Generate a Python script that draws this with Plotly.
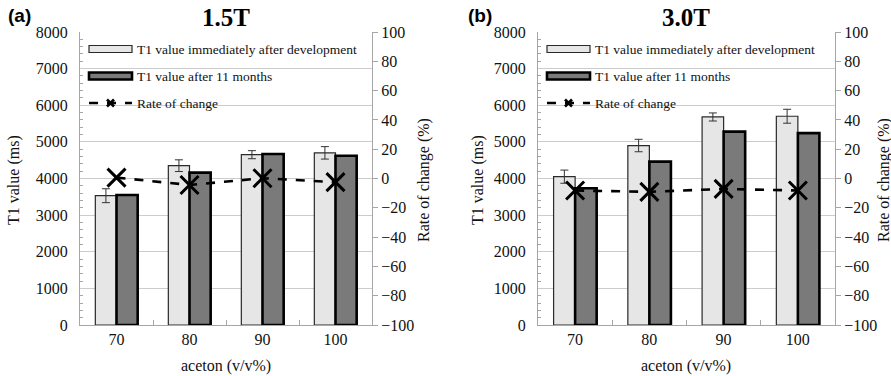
import plotly.graph_objects as go
from plotly.subplots import make_subplots

W, H = 891, 376

categories = ["70", "80", "90", "100"]
# Panel (a) 1.5T
a_initial = [3530, 4350, 4650, 4700]
a_initial_err = [190, 160, 110, 170]
a_after = [3550, 4160, 4670, 4620]
a_rate = [0.6, -4.4, 0.2, -2.5]
# Panel (b) 3.0T
b_initial = [4050, 4900, 5680, 5700]
b_initial_err = [180, 170, 110, 190]
b_after = [3735, 4460, 5280, 5240]
b_rate = [-8.2, -9.1, -7.1, -8.2]

panel_titles = ["1.5T", "3.0T"]
panel_labels = ["(a)", "(b)"]
legend_names = ["T1 value immediately after development", "T1 value after 11 months", "Rate of change"]
y_title = "T1 value (ms)"
y2_title = "Rate of change (%)"
x_title = "aceton (v/v%)"

SERIF = "Liberation Serif, Times New Roman, serif"

def px(x):
    return x / W

def py(y):
    return 1 - y / H

fig = make_subplots(rows=1, cols=2, specs=[[{"secondary_y": True}, {"secondary_y": True}]])

panels = [
    (a_initial, a_initial_err, a_after, a_rate),
    (b_initial, b_initial_err, b_after, b_rate),
]

for i, (ini, err, aft, rate) in enumerate(panels):
    col = i + 1
    fig.add_trace(go.Bar(x=categories, y=ini, name=legend_names[0], showlegend=False,
                         marker=dict(color="#e6e6e6", line=dict(color="#2a2a2a", width=1.2)),
                         error_y=dict(type="data", array=err, color="#333333", thickness=1, width=4)),
                  row=1, col=col, secondary_y=False)
    fig.add_trace(go.Bar(x=categories, y=aft, name=legend_names[1], showlegend=False,
                         marker=dict(color="#7a7a7a", line=dict(color="#000000", width=2.6))),
                  row=1, col=col, secondary_y=False)
    fig.add_trace(go.Scatter(x=categories, y=rate, name=legend_names[2], showlegend=False,
                             mode="lines+markers",
                             line=dict(color="#000000", width=2.6, dash="dash"),
                             marker=dict(symbol="x-thin", size=18, line=dict(color="#000000", width=3))),
                  row=1, col=col, secondary_y=True)

# plot area pixel geometry
top_px, bot_px = 32, 325
xdoms = [(80, 372), (538, 835)]

layout_axes = {}
axis_names = [("xaxis", "yaxis", "yaxis2"), ("xaxis2", "yaxis3", "yaxis4")]
tickfont = dict(family=SERIF, size=16, color="#111")
for i, (xn, yn, y2n) in enumerate(axis_names):
    x0, x1 = xdoms[i]
    layout_axes[xn] = dict(domain=[px(x0), px(x1)], type="category", automargin=False,
                           showline=True, linecolor="#a6a6a6", linewidth=1.2,
                           ticks="inside", tickson="boundaries", ticklen=5, tickcolor="#a6a6a6",
                           tickfont=dict(tickfont), showgrid=False)
    layout_axes[yn] = dict(domain=[py(bot_px), py(top_px)], range=[0, 8000], dtick=1000,
                           automargin=False,
                           showline=True, linecolor="#a6a6a6", linewidth=1.2,
                           showgrid=True, gridcolor="#cccccc", gridwidth=1,
                           ticks="", ticklabelstandoff=8,
                           minor=dict(dtick=200, ticks="inside", ticklen=3, tickcolor="#a6a6a6", showgrid=False),
                           tickfont=dict(tickfont), zeroline=False)
    layout_axes[y2n] = dict(range=[-100, 100], dtick=20, automargin=False,
                            showline=True, linecolor="#a6a6a6", linewidth=1.2,
                            ticks="outside", ticklen=5, tickcolor="#a6a6a6",
                            showgrid=False, zeroline=False, tickfont=dict(tickfont))

fig.update_layout(**layout_axes)

annotations = []
shapes = []
title_x = [226, 686]
ylab_x = [14, 478]
y2lab_x = [424, 884]
label_x = [19, 480]


def ann(text, x, y, font, **kw):
    d = dict(text=text, x=px(x), y=py(y), xref="paper", yref="paper", showarrow=False,
             xanchor="center", yanchor="middle", font=font)
    d.update(kw)
    return d


for i in range(2):
    annotations.append(ann("<b>" + panel_titles[i] + "</b>", title_x[i], 18,
                           dict(family=SERIF, size=25, color="#000")))
    annotations.append(ann("<b>" + panel_labels[i] + "</b>", label_x[i], 16,
                           dict(family="Liberation Sans, Arial, sans-serif", size=19, color="#000")))
    annotations.append(ann(y_title, ylab_x[i], 180, dict(family=SERIF, size=16, color="#111"), textangle=-90))
    annotations.append(ann(y2_title, y2lab_x[i], 180, dict(family=SERIF, size=16, color="#111"), textangle=-90))
    annotations.append(ann(x_title, title_x[i], 366, dict(family=SERIF, size=16, color="#111")))

    # legend (drawn manually to reproduce wide swatches)
    lx0 = xdoms[i][0] + 9
    lx1 = lx0 + 43
    ys = [49, 76, 103]
    shapes.append(dict(type="rect", xref="paper", yref="paper",
                       x0=px(lx0), x1=px(lx1), y0=py(ys[0] - 3.5), y1=py(ys[0] + 3.5),
                       fillcolor="#e6e6e6", line=dict(color="#2a2a2a", width=1.2)))
    shapes.append(dict(type="rect", xref="paper", yref="paper",
                       x0=px(lx0), x1=px(lx1), y0=py(ys[1] - 3.5), y1=py(ys[1] + 3.5),
                       fillcolor="#7a7a7a", line=dict(color="#000000", width=2.6)))
    shapes.append(dict(type="line", xref="paper", yref="paper",
                       x0=px(lx0), x1=px(lx1), y0=py(ys[2]), y1=py(ys[2]),
                       line=dict(color="#000000", width=2.6, dash="dash")))
    cx, cy, r = (lx0 + lx1) / 2, ys[2], 3.5
    for dy in (r, -r):
        shapes.append(dict(type="line", xref="paper", yref="paper",
                           x0=px(cx - r), x1=px(cx + r), y0=py(cy - dy), y1=py(cy + dy),
                           line=dict(color="#000000", width=2.6)))
    for k in range(3):
        annotations.append(ann(legend_names[k], lx1 + 3, ys[k],
                               dict(family=SERIF, size=13.5, color="#111"), xanchor="left"))

fig.update_layout(
    width=W, height=H,
    font=dict(family=SERIF, color="#111"),
    margin=dict(l=0, r=0, t=0, b=0, autoexpand=False),
    paper_bgcolor="white", plot_bgcolor="white",
    barmode="group", bargap=0.42, bargroupgap=0,
    showlegend=False,
    annotations=annotations,
    shapes=shapes,
)

fig.write_html("out.html")
